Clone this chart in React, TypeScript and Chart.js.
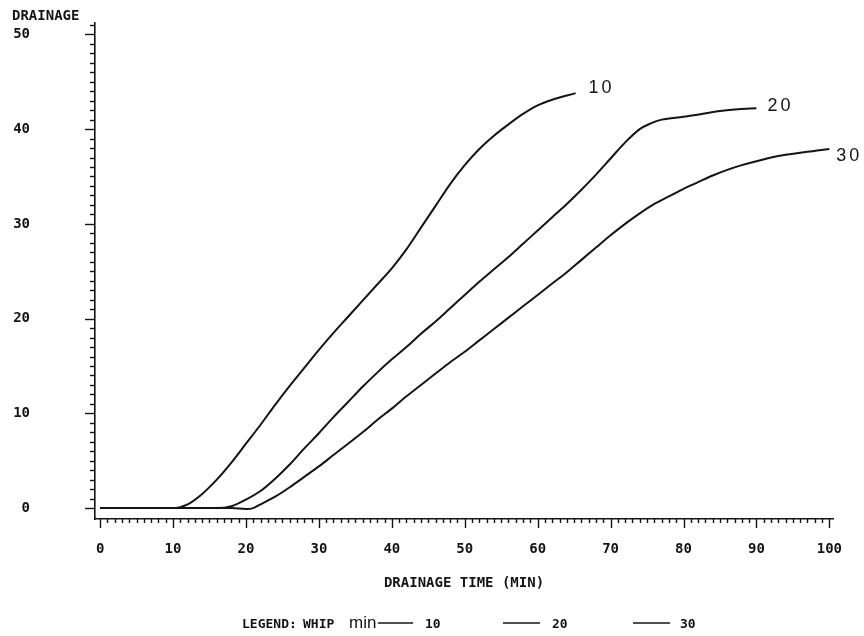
import React, { useEffect, useRef } from 'react';
import { Chart, registerables } from 'chart.js';

Chart.register(...registerables);

// ---- data ----
const SERIES_LABELS = ['10', '20', '30'];

const X_10 = [0, 5, 10, 12, 14, 16, 18, 20, 22, 24, 26, 28, 30, 32, 34, 36, 38, 40, 42, 44, 46, 48, 50, 52, 54, 56, 58, 60, 62, 65.2];
const Y_10 = [0, 0, 0, 0.4, 1.5, 3.0, 4.8, 6.8, 8.8, 10.9, 12.9, 14.8, 16.7, 18.5, 20.2, 21.9, 23.6, 25.3, 27.3, 29.6, 31.9, 34.2, 36.2, 37.9, 39.3, 40.5, 41.6, 42.5, 43.1, 43.8];

const X_20 = [0, 10, 16, 18, 20, 22, 24, 26, 28, 30, 32, 34, 36, 38, 40, 42, 44, 46, 48, 50, 52, 54, 56, 58, 60, 62, 64, 66, 68, 70, 72, 74, 75.5, 77, 80, 82.5, 85, 87.5, 90];
const Y_20 = [0, 0, 0, 0.2, 0.9, 1.8, 3.1, 4.6, 6.3, 7.9, 9.6, 11.2, 12.8, 14.3, 15.7, 17.0, 18.4, 19.7, 21.1, 22.5, 23.9, 25.2, 26.5, 27.9, 29.3, 30.7, 32.1, 33.6, 35.2, 36.9, 38.6, 40.0, 40.6, 41.0, 41.3, 41.6, 41.9, 42.1, 42.2];

const X_30 = [0, 10, 18, 20, 21, 22, 24, 26, 28, 30, 32, 34, 36, 38, 40, 42, 44, 46, 48, 50, 52, 54, 56, 58, 60, 62, 64, 66, 68, 70, 72, 74, 76, 78, 80, 82, 84, 86, 88, 90, 92, 94, 96, 98, 100];
const Y_30 = [0, 0, 0, -0.1, 0, 0.4, 1.2, 2.2, 3.3, 4.4, 5.6, 6.8, 8.0, 9.3, 10.5, 11.8, 13.0, 14.2, 15.4, 16.5, 17.7, 18.9, 20.1, 21.3, 22.5, 23.7, 24.9, 26.2, 27.5, 28.8, 30.0, 31.1, 32.1, 32.9, 33.7, 34.4, 35.1, 35.7, 36.2, 36.6, 37.0, 37.3, 37.5, 37.7, 37.9];

const X_TICKS = [0, 10, 20, 30, 40, 50, 60, 70, 80, 90, 100];
const X_TICK_LABELS = ['0', '10', '20', '30', '40', '50', '60', '70', '80', '90', '100'];
const Y_TICKS = [0, 10, 20, 30, 40, 50];
const Y_TICK_LABELS = ['0', '10', '20', '30', '40', '50'];

const X_MIN = -0.7;
const X_MAX = 100.5;
const Y_MIN = -1.15;
const Y_MAX = 51.2;

const Y_AXIS_TITLE = 'DRAINAGE';
const X_AXIS_TITLE = 'DRAINAGE TIME (MIN)';
const LEGEND_PREFIX = 'LEGEND:';
const LEGEND_WHIP = 'WHIP';
const LEGEND_UNIT = 'min';

const INK = '#141414';
const MONO = 'bold 14px "DejaVu Sans Mono"';
const MONO_SMALL = 'bold 13px "DejaVu Sans Mono"';
const SANS_LABEL = '18px "Liberation Sans"';

function toPoints(xs: number[], ys: number[]) {
  return xs.map((x, i) => ({ x, y: ys[i] }));
}

function spacedText(ctx: CanvasRenderingContext2D, text: string, x: number, y: number, spacing: number) {
  let cx = x;
  for (const ch of text) {
    ctx.fillText(ch, cx, y);
    cx += ctx.measureText(ch).width + spacing;
  }
}

const decorPlugin = {
  id: 'decor',
  afterDraw(chart: any) {
    const ctx: CanvasRenderingContext2D = chart.ctx;
    const xs = chart.scales.x;
    const ys = chart.scales.y;
    const area = chart.chartArea;
    ctx.save();
    ctx.strokeStyle = INK;
    ctx.fillStyle = INK;
    ctx.lineWidth = 1.4;

    // y ticks (minor every 1, major every 10)
    for (let v = 0; v <= Math.floor(Y_MAX); v++) {
      const py = Math.round(ys.getPixelForValue(v)) + 0.5;
      const len = v % 10 === 0 ? 10 : 5;
      ctx.beginPath();
      ctx.moveTo(area.left - len, py);
      ctx.lineTo(area.left, py);
      ctx.stroke();
    }
    // x ticks
    for (let v = 0; v <= Math.floor(X_MAX); v++) {
      const px = Math.round(xs.getPixelForValue(v)) + 0.5;
      const len = v % 10 === 0 ? 9 : 4;
      ctx.beginPath();
      ctx.moveTo(px, area.bottom);
      ctx.lineTo(px, area.bottom + len);
      ctx.stroke();
    }

    // y axis title
    ctx.font = MONO;
    ctx.textAlign = 'left';
    ctx.textBaseline = 'middle';
    ctx.fillText(Y_AXIS_TITLE, 12, 16);

    // curve end labels
    const offs = [
      [13, -5],
      [11, -2],
      [7, 7],
    ];
    ctx.font = SANS_LABEL;
    chart.data.datasets.forEach((ds: any, i: number) => {
      const last = ds.data[ds.data.length - 1];
      const px = xs.getPixelForValue(last.x);
      const py = ys.getPixelForValue(last.y);
      spacedText(ctx, ds.label, px + offs[i][0], py + offs[i][1], 3);
    });

    // legend
    const ly = 628;
    ctx.textBaseline = 'alphabetic';
    ctx.font = MONO_SMALL;
    ctx.fillText(LEGEND_PREFIX, 242, ly);
    ctx.fillText(LEGEND_WHIP, 303, ly);
    ctx.font = '17px "Liberation Sans"';
    ctx.fillText(LEGEND_UNIT, 349, ly);
    const items = [
      [378, 413, 425],
      [503, 540, 552],
      [633, 670, 680],
    ];
    chart.data.datasets.forEach((ds: any, i: number) => {
      const [a, b, t] = items[i];
      ctx.lineWidth = 1.6;
      ctx.beginPath();
      ctx.moveTo(a, ly - 5);
      ctx.lineTo(b, ly - 5);
      ctx.stroke();
      ctx.font = MONO_SMALL;
      ctx.fillText(ds.label, t, ly);
    });

    ctx.restore();
  },
};

export default function App() {
  const ref = useRef<HTMLCanvasElement | null>(null);

  useEffect(() => {
    if (!ref.current) return;
    const series = [toPoints(X_10, Y_10), toPoints(X_20, Y_20), toPoints(X_30, Y_30)];
    const chart = new Chart(ref.current, {
      type: 'line',
      data: {
        datasets: series.map((data, i) => ({
          label: SERIES_LABELS[i],
          data,
          borderColor: INK,
          borderWidth: 2,
          pointRadius: 0,
          fill: false,
          cubicInterpolationMode: 'monotone' as const,
        })),
      },
      options: {
        animation: false,
        responsive: true,
        maintainAspectRatio: false,
        layout: { padding: { left: 0, top: 23, right: 31, bottom: 0 } },
        plugins: {
          legend: { display: false },
          tooltip: { enabled: false },
          title: { display: false },
        },
        scales: {
          x: {
            type: 'linear',
            min: X_MIN,
            max: X_MAX,
            grid: { display: false, drawTicks: false },
            border: { display: true, color: INK, width: 1.6 },
            afterBuildTicks: (scale: any) => {
              scale.ticks = X_TICKS.map((v) => ({ value: v }));
            },
            afterFit: (scale: any) => {
              scale.height = 117;
              scale.paddingLeft = 0;
              scale.paddingRight = 0;
              scale.paddingTop = 0;
              scale.paddingBottom = 0;
            },
            ticks: {
              autoSkip: false,
              maxRotation: 0,
              padding: 22,
              color: INK,
              font: { family: 'DejaVu Sans Mono', size: 14, weight: 'bold' },
              callback: (v: any) => {
                const i = X_TICKS.indexOf(Number(v));
                return i >= 0 ? X_TICK_LABELS[i] : '';
              },
            },
            title: {
              display: true,
              text: X_AXIS_TITLE,
              color: INK,
              font: { family: 'DejaVu Sans Mono', size: 14, weight: 'bold' },
              padding: { top: 0, bottom: 44 },
            },
          },
          y: {
            type: 'linear',
            min: Y_MIN,
            max: Y_MAX,
            grid: { display: false, drawTicks: false },
            border: { display: true, color: INK, width: 1.6 },
            afterBuildTicks: (scale: any) => {
              scale.ticks = Y_TICKS.map((v) => ({ value: v }));
            },
            afterFit: (scale: any) => {
              scale.width = 95;
              scale.paddingLeft = 0;
              scale.paddingRight = 0;
              scale.paddingTop = 0;
              scale.paddingBottom = 0;
            },
            ticks: {
              autoSkip: false,
              padding: 65,
              color: INK,
              font: { family: 'DejaVu Sans Mono', size: 14, weight: 'bold' },
              callback: (v: any) => {
                const i = Y_TICKS.indexOf(Number(v));
                return i >= 0 ? Y_TICK_LABELS[i] : '';
              },
            },
          },
        },
      },
      plugins: [decorPlugin],
    });
    return () => chart.destroy();
  }, []);

  return (
    <div style={{ position: 'fixed', left: 0, top: 0, width: 864, height: 636, background: '#fff' }}>
      <canvas ref={ref} />
    </div>
  );
}
